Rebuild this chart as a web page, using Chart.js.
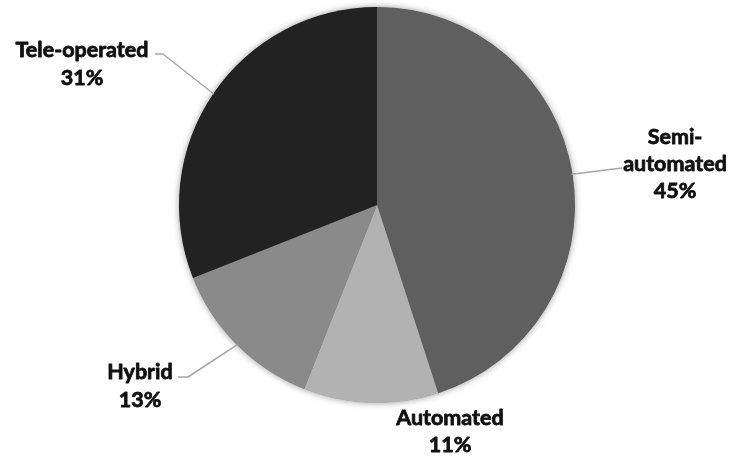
<!DOCTYPE html>
<html>
<head>
<meta charset="utf-8">
<script src="https://cdn.jsdelivr.net/npm/chart.js@4"></script>
<style>
  html, body { margin: 0; padding: 0; background: #fff; }
  #wrap { width: 733px; height: 457px; position: relative; }
</style>
</head>
<body>
<div id="wrap"><canvas id="pie"></canvas></div>
<script>
// Control modes and their share (%)
const categories = ['Semi-automated', 'Automated', 'Hybrid', 'Tele-operated'];
const shares = [45, 11, 13, 31];
const sliceColors = ['#5f5f5f', '#b2b2b2', '#8a8a8a', '#222222'];

// Where each label sits: text centre x, first line centre y,
// and the elbow of its leader line (null = no leader)
const labelLayout = [
  { x: 675, y: 137, lineH: 27, breakHyphen: true, elbow: [622, 168], tail: null },
  { x: 450, y: 418, lineH: 27, breakHyphen: false, elbow: null, tail: null },
  { x: 140, y: 372, lineH: 28, breakHyphen: false, elbow: [188, 377], tail: [178, 377] },
  { x: 82, y: 50, lineH: 28, breakHyphen: false, elbow: [163, 54], tail: [155, 54] }
];

const LABEL_FONT = 'bold 21.5px Lato, "Open Sans", sans-serif';

// soft drop shadow behind the whole pie
const pieShadow = {
  id: 'pieShadow',
  beforeDatasetsDraw(chart) {
    const arc = chart.getDatasetMeta(0).data[0];
    if (!arc) return;
    const ctx = chart.ctx;
    ctx.save();
    ctx.shadowColor = 'rgba(0,0,0,0.45)';
    ctx.shadowBlur = 7;
    ctx.beginPath();
    ctx.arc(arc.x, arc.y, arc.outerRadius - 0.5, 0, Math.PI * 2);
    ctx.fillStyle = '#777';
    ctx.fill();
    ctx.restore();
  }
};

// category + percentage labels with leader lines
const outsideLabels = {
  id: 'outsideLabels',
  afterDatasetsDraw(chart) {
    const ctx = chart.ctx;
    const meta = chart.getDatasetMeta(0);
    ctx.save();
    meta.data.forEach((arc, i) => {
      const lay = labelLayout[i];
      const mid = (arc.startAngle + arc.endAngle) / 2;
      const ex = arc.x + Math.cos(mid) * (arc.outerRadius - 1);
      const ey = arc.y + Math.sin(mid) * (arc.outerRadius - 1);

      if (lay.elbow) {
        ctx.beginPath();
        ctx.strokeStyle = '#a6a6a6';
        ctx.lineWidth = 1.5;
        ctx.moveTo(ex, ey);
        ctx.lineTo(lay.elbow[0], lay.elbow[1]);
        if (lay.tail) ctx.lineTo(lay.tail[0], lay.tail[1]);
        ctx.stroke();
      }

      const name = categories[i];
      const lines = lay.breakHyphen
        ? [name.slice(0, name.indexOf('-') + 1), name.slice(name.indexOf('-') + 1)]
        : [name];
      lines.push(shares[i] + '%');

      ctx.font = LABEL_FONT;
      ctx.fillStyle = '#111';
      ctx.strokeStyle = '#111';
      ctx.lineWidth = 0.8;
      ctx.lineJoin = 'round';
      ctx.textAlign = 'center';
      ctx.textBaseline = 'middle';
      lines.forEach((t, k) => {
        // a light stroke gives the heavier weight of the label face
        ctx.fillText(t, lay.x, lay.y + k * lay.lineH);
        ctx.strokeText(t, lay.x, lay.y + k * lay.lineH);
      });
    });
    ctx.restore();
  }
};

new Chart(document.getElementById('pie'), {
  type: 'pie',
  data: {
    labels: categories,
    datasets: [{
      data: shares,
      backgroundColor: sliceColors,
      borderWidth: 0
    }]
  },
  options: {
    responsive: true,
    maintainAspectRatio: false,
    animation: false,
    layout: { padding: { top: 7, bottom: 54, left: 179, right: 158 } },
    plugins: {
      legend: { display: false },
      tooltip: { enabled: false }
    }
  },
  plugins: [pieShadow, outsideLabels]
});
</script>
</body>
</html>
